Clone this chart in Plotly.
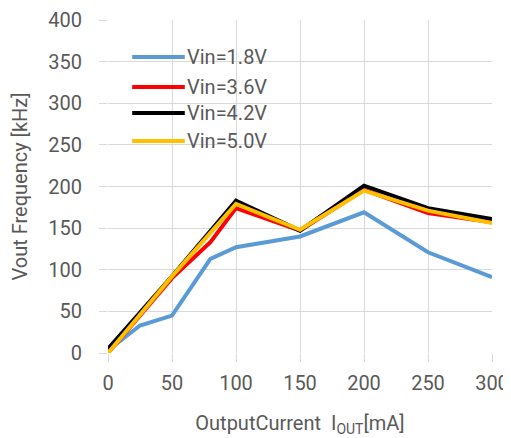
import plotly.graph_objects as go

x_blue = [0, 25, 50, 80, 100, 150, 200, 250, 300]
y_blue = [3, 33, 45, 113, 127, 140, 169, 121, 91]
x_red = [0, 50, 80, 100, 150, 200, 250, 300]
y_red = [0, 90, 133, 174, 147, 196, 168, 157]
x_black = [0, 50, 100, 150, 200, 250, 300]
y_black = [5, 92, 183, 147, 201, 174, 161]
x_yellow = [0, 50, 100, 150, 200, 250, 300]
y_yellow = [0, 92, 179, 148, 195, 171, 156]

names = ["Vin=1.8V", "Vin=3.6V", "Vin=4.2V", "Vin=5.0V"]
colors = ["#5B9BD5", "#FF0000", "#000000", "#FFC000"]
xs = [x_blue, x_red, x_black, x_yellow]
ys = [y_blue, y_red, y_black, y_yellow]

x_ticks = [0, 50, 100, 150, 200, 250, 300]
y_ticks = [0, 50, 100, 150, 200, 250, 300, 350, 400]

FONT = "Roboto, Arial, sans-serif"
GRAY = "#595959"

fig = go.Figure()
for n, c, x, y in zip(names, colors, xs, ys):
    fig.add_trace(go.Scatter(x=x, y=y, mode="lines", name=n,
                             line=dict(color=c, width=4), showlegend=False))

# custom legend (longer line samples as in the reference)
leg_y = [0.889, 0.799, 0.721, 0.637]
for n, c, ly in zip(names, colors, leg_y):
    fig.add_shape(type="line", xref="paper", yref="paper",
                  x0=0.063, x1=0.200, y0=ly, y1=ly,
                  line=dict(color=c, width=4))
    fig.add_annotation(xref="paper", yref="paper", x=0.201, y=ly,
                       text=n, showarrow=False, xanchor="left", yanchor="middle",
                       font=dict(family=FONT, size=20, color=GRAY))

fig.update_layout(
    width=503, height=430,
    margin=dict(l=100, r=19, t=12, b=85),
    paper_bgcolor="white", plot_bgcolor="white",
    font=dict(family=FONT, size=20, color=GRAY),
    showlegend=False,
    xaxis=dict(range=[0, 300], tickvals=x_ticks, showgrid=True,
               gridcolor="#D9D9D9", gridwidth=1, zeroline=False,
               showline=False, ticks="outside", ticklen=8, tickcolor="#D9D9D9",
               ticklabelstandoff=4, automargin=False,
               tickfont=dict(family=FONT, size=20, color=GRAY),
               title=dict(text="OutputCurrent  I<sub>OUT</sub>[mA]", standoff=21,
                          font=dict(family=FONT, size=20, color=GRAY))),
    yaxis=dict(range=[0, 400], tickvals=y_ticks, showgrid=True,
               gridcolor="#D9D9D9", gridwidth=1, zeroline=False,
               showline=False, ticks="outside", ticklen=8, tickcolor="#D9D9D9",
               ticklabelstandoff=13, automargin=False,
               tickfont=dict(family=FONT, size=20, color=GRAY),
               title=dict(text="Vout Frequency [kHz]", standoff=18,
                          font=dict(family=FONT, size=20, color=GRAY))),
)
fig.write_html("out.html")
